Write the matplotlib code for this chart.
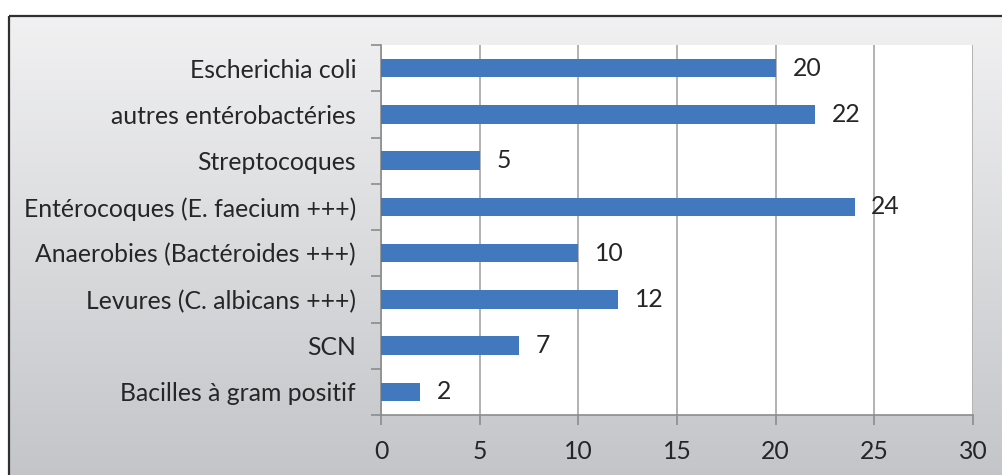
import numpy as np
import matplotlib.pyplot as plt
from matplotlib.patches import Rectangle

# ── Data ──────────────────────────────────────────────────────────────────────
categories = [
    "Escherichia coli",
    "autres entérobactéries",
    "Streptocoques",
    "Entérocoques (E. faecium +++)",
    "Anaerobies (Bactéroides +++)",
    "Levures (C. albicans +++)",
    "SCN",
    "Bacilles à gram positif",
]
values = [20, 22, 5, 24, 10, 12, 7, 2]
x_ticks = [0, 5, 10, 15, 20, 25, 30]

plt.rcParams["font.family"] = ["Lato", "DejaVu Sans"]
FS = 17.8
TXT = "#262626"

fig = plt.figure(figsize=(10.02, 4.75), dpi=100)

# ── Background: gradient panel with dark frame ───────────────────────────────
bg = fig.add_axes([0, 0, 1, 1], zorder=0)
bg.set_xlim(0, 1002)
bg.set_ylim(475, 0)
bg.axis("off")
grad = np.linspace(0, 1, 256).reshape(-1, 1)
top_c = np.array([0.945, 0.945, 0.950])
bot_c = np.array([0.765, 0.770, 0.785])
img = top_c + (bot_c - top_c) * grad[..., None]
bg.imshow(img, extent=[9, 1010, 485, 16], aspect="auto", zorder=0)
bg.add_patch(Rectangle((9, 16), 1001, 469, fill=False, ec="#303030", lw=1.6, zorder=1))

# ── Chart ─────────────────────────────────────────────────────────────────────
ax = fig.add_axes([381 / 1002, 60 / 475, 592 / 1002, 370 / 475], zorder=1)
ax.set_facecolor("white")
y = np.arange(len(categories))[::-1]
ax.barh(y, values, height=0.4, color="#4178be", zorder=3)
for yi, v in zip(y, values):
    ax.text(v + 0.85, yi, str(v), va="center", ha="left", fontsize=FS, color=TXT, zorder=4)

ax.set_xlim(0, 30)
ax.set_ylim(-0.5, len(categories) - 0.5)
ax.set_xticks(x_ticks)
ax.set_xticklabels([str(t) for t in x_ticks], fontsize=FS, color=TXT)
ax.set_yticks(y)
ax.set_yticklabels(categories, fontsize=FS, color=TXT)
ax.set_yticks(np.arange(-0.5, len(categories), 1), minor=True)

ax.grid(axis="x", color="#a6a6a6", lw=1.2, zorder=0)
ax.tick_params(axis="y", which="major", length=0, pad=18)
ax.tick_params(axis="y", which="minor", length=7, color="#8c8c8c", width=1.2)
ax.tick_params(axis="x", length=7, color="#8c8c8c", width=1.2, pad=11)
for s in ["top", "right"]:
    ax.spines[s].set_visible(False)
for s in ["left", "bottom"]:
    ax.spines[s].set_color("#8c8c8c")
    ax.spines[s].set_linewidth(1.2)

fig.savefig("out.png", dpi=100)
